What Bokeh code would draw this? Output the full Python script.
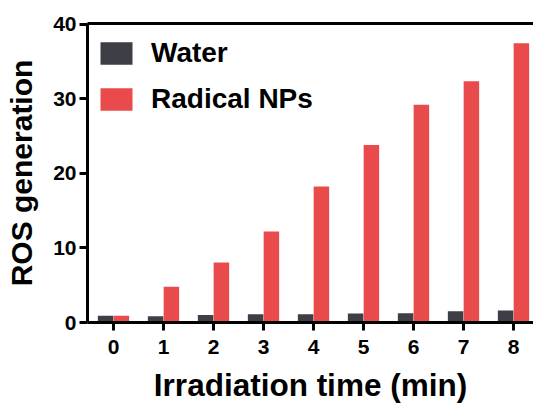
from bokeh.plotting import figure
from bokeh.models import (ColumnDataSource, Range1d, FixedTicker, LinearAxis,
                          Legend, LegendItem)
from bokeh.embed import file_html
from bokeh.resources import INLINE

# ---- data ----
times = [0, 1, 2, 3, 4, 5, 6, 7, 8]
water = [0.9, 0.85, 1.0, 1.1, 1.1, 1.2, 1.25, 1.5, 1.6]
radical = [0.9, 4.8, 8.05, 12.2, 18.25, 23.8, 29.2, 32.35, 37.45]
y_ticks = [0, 10, 20, 30, 40]
series_names = ["Water", "Radical NPs"]
colors = ["#3e3e46", "#e94a4c"]

FONT = "Liberation Sans"
BAR_W = 0.31
OFF = 0.158

src = ColumnDataSource(dict(
    x_w=[t - OFF for t in times],
    x_r=[t + OFF for t in times],
    water=water,
    radical=radical,
))

p = figure(width=533, height=407, output_backend="svg", toolbar_location=None,
           x_range=Range1d(-0.52, 8.4), y_range=Range1d(0, 40.1),
           min_border_left=87, min_border_right=0, min_border_top=23,
           min_border_bottom=85)
p.outline_line_color = None
p.grid.visible = False
p.background_fill_color = "white"
p.border_fill_color = "white"

rw = p.vbar(x="x_w", top="water", width=BAR_W, source=src,
            fill_color=colors[0], line_color=None)
rr = p.vbar(x="x_r", top="radical", width=BAR_W, source=src,
            fill_color=colors[1], line_color=None)

# axes styling
for ax in (p.xaxis[0], p.yaxis[0]):
    ax.axis_line_width = 3
    ax.axis_line_color = "black"
    ax.major_tick_line_width = 3
    ax.major_tick_line_color = "black"
    ax.major_tick_in = 0
    ax.major_tick_out = 8
    ax.minor_tick_line_color = None
    ax.major_label_text_font = FONT
    ax.major_label_text_font_style = "bold"
    ax.major_label_text_font_size = "21px"
    ax.major_label_text_color = "black"
    ax.axis_label_text_font = FONT
    ax.axis_label_text_font_style = "bold"
    ax.axis_label_text_color = "black"

p.xaxis.axis_label_text_font_size = "31.5px"
p.yaxis.axis_label_text_font_size = "30px"
p.xaxis.ticker = FixedTicker(ticks=times)
p.yaxis.ticker = FixedTicker(ticks=y_ticks)
p.xaxis.axis_label = "Irradiation time (min)"
p.yaxis.axis_label = "ROS generation"
p.xaxis.major_label_standoff = 9
p.yaxis.major_label_standoff = 3
p.xaxis.axis_label_standoff = 10
p.yaxis.axis_label_standoff = 12

top_ax = LinearAxis(axis_line_width=3, axis_line_color="black",
                    major_tick_line_color=None, minor_tick_line_color=None,
                    major_label_text_font_size="0px", ticker=FixedTicker(ticks=[]))
p.add_layout(top_ax, "above")

legend = Legend(items=[LegendItem(label=series_names[0], renderers=[rw]),
                       LegendItem(label=series_names[1], renderers=[rr])],
                location=(9, 207), padding=0, margin=0, spacing=14,
                glyph_width=40, glyph_height=28, label_height=28,
                label_standoff=15,
                label_text_font=FONT, label_text_font_style="bold",
                label_text_font_size="28px", label_text_color="black",
                background_fill_alpha=0, border_line_color=None)
p.add_layout(legend, "center")

open("out.html", "w").write(file_html(p, INLINE))
